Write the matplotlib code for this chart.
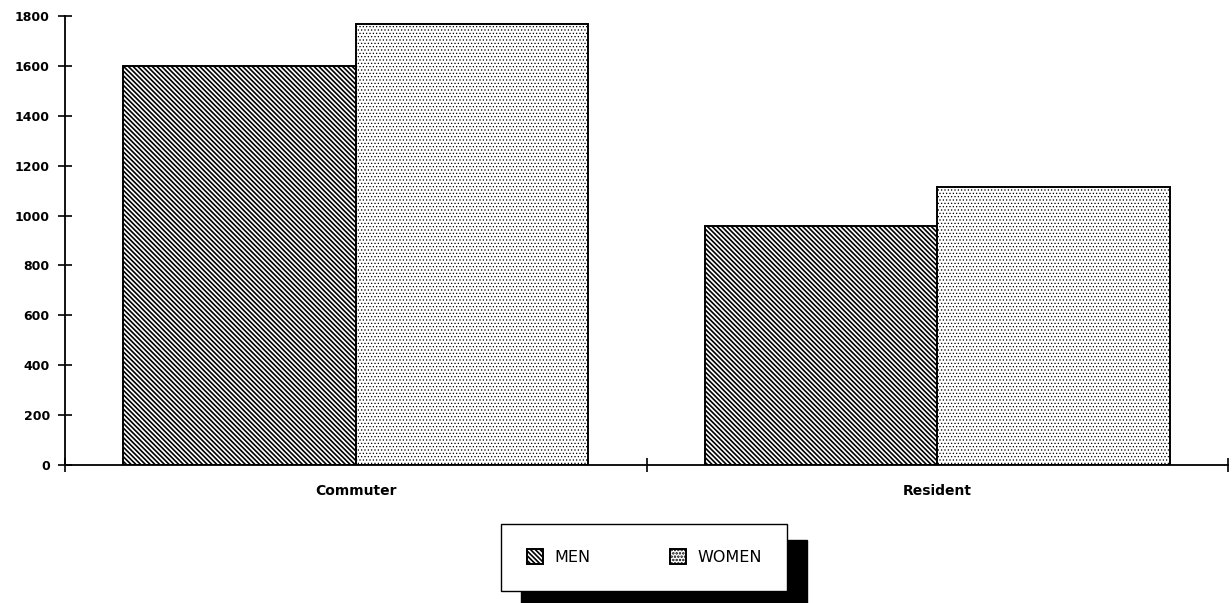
import numpy as np
from matplotlib import pyplot as plt

categories = ['Commuter', 'Resident']
men = [1600, 958]
women = [1768, 1115]
series = ['MEN', 'WOMEN']
yticks = [0, 200, 400, 600, 800, 1000, 1200, 1400, 1600, 1800]

plt.rcParams['hatch.linewidth'] = 1.2
plt.rcParams['font.family'] = 'DejaVu Sans'

fig = plt.figure(figsize=(12.32, 6.03), dpi=100)
ax = fig.add_axes([0.0528, 0.2289, 0.9440, 0.7446])

x = np.arange(len(categories))
w = 0.4
b1 = ax.bar(x - w / 2, men, w, facecolor='white', edgecolor='black',
            linewidth=1.4, hatch='\\' * 7, label=series[0])
b2 = ax.bar(x + w / 2, women, w, facecolor='white', edgecolor='black',
            linewidth=1.4, hatch='.....', label=series[1])
for p in b2:
    if hasattr(p, 'set_hatch_linewidth'):
        p.set_hatch_linewidth(0.5)
    if hasattr(p, 'set_hatchcolor'):
        p.set_hatchcolor('#333333')

ax.set_xlim(-0.5, len(categories) - 0.5)
ax.set_ylim(0, 1800)
ax.set_yticks(yticks)
ax.set_yticklabels([str(v) for v in yticks], fontsize=9, fontweight='bold')

# category boundaries as ticks, names in the middle
ax.set_xticks(np.arange(len(categories) + 1) - 0.5)
ax.set_xticklabels([''] * (len(categories) + 1))
ax.set_xticks(x, minor=True)
ax.set_xticklabels(categories, minor=True, fontsize=10, fontweight='bold')
ax.tick_params(axis='x', which='minor', length=0, pad=14)
ax.tick_params(axis='x', which='major', direction='inout', length=10, width=1.2)
ax.tick_params(axis='y', direction='inout', length=10, width=1.2, pad=6)

for s in ['top', 'right']:
    ax.spines[s].set_visible(False)
ax.spines['left'].set_linewidth(1.3)
ax.spines['bottom'].set_linewidth(1.3)

leg = fig.legend(handles=[b1, b2], loc='center', bbox_to_anchor=(0.523, 0.076),
                 ncol=2, fontsize=11.5, frameon=True, fancybox=False,
                 edgecolor='black', handlelength=1.0, handleheight=1.0,
                 columnspacing=5.0, borderpad=1.6, handletextpad=0.7,
                 shadow={'ox': 14, 'oy': -12, 'facecolor': 'black',
                         'edgecolor': 'black', 'alpha': 1})
leg.get_frame().set_linewidth(1.0)

fig.savefig('out.png', dpi=100)
